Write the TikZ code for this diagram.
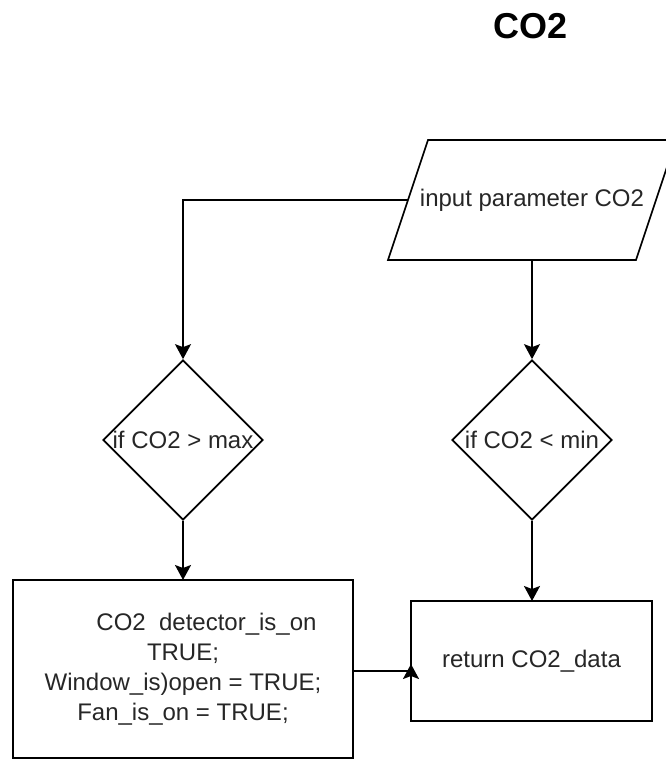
\documentclass[tikz,border=0pt]{standalone}
\usepackage{fontspec}
\setmainfont{Liberation Sans}
\usetikzlibrary{arrows.meta,shapes.geometric}
\begin{document}
\begin{tikzpicture}[x=1pt,y=-1pt,
  line width=1.7pt,
  lbl/.style={font=\fontsize{24}{30}\selectfont, text=black!85},
  decision/.style={draw, shape=diamond, minimum width=160pt, minimum height=160pt, inner sep=0pt, lbl},
  procbox/.style={draw, rectangle, inner sep=0pt, outer sep=0pt, lbl, align=center},
  arr/.style={-{Stealth[length=15pt,width=16pt,inset=3pt]}}
]
% page frame (the input shape runs past the right edge)
\clip (0,0) rectangle (666,760);

% title
\node[font=\fontsize{36}{40}\selectfont\bfseries] (title) at (531,26) {CO2};

% input parallelogram
\draw (388,260) -- (428,140) -- (676,140) -- (636,260) -- cycle;
\node[lbl] (par) at (532,200) {input parameter CO2};
\coordinate (parL) at (408,200);
\coordinate (parB) at (532,260);

% decisions
\node[decision] (d1) at (183,440) {\makebox[0pt]{if CO2 > max}};
\node[decision] (d2) at (532,440) {\makebox[0pt]{if CO2 < min}};

% process boxes
\node[procbox, minimum width=340pt, minimum height=178pt] (box1) at (183,669)
  {\hspace*{47pt}CO2 \ detector\_is\_on\\ TRUE;\\ Window\_is)open = TRUE;\\ Fan\_is\_on = TRUE;};
\node[procbox, minimum width=241pt, minimum height=120pt] (ret) at (531.5,661)
  {return CO2\_data};

% connectors
\draw[arr] (parL) -| (d1.north);
\draw[arr] (parB) -- (d2.north);
\draw[arr] (d1.south) -- (box1.north);
\draw[arr] (d2.south) -- (d2.south |- ret.north);
\coordinate (J) at (ret.west |- 0,671);
\draw (box1.east |- J) -- (J);
% the tip sits on the box edge, pointing up along it
\draw[arr] ([yshift=-30pt]J) -- ([yshift=7pt]J);
\end{tikzpicture}
\end{document}
